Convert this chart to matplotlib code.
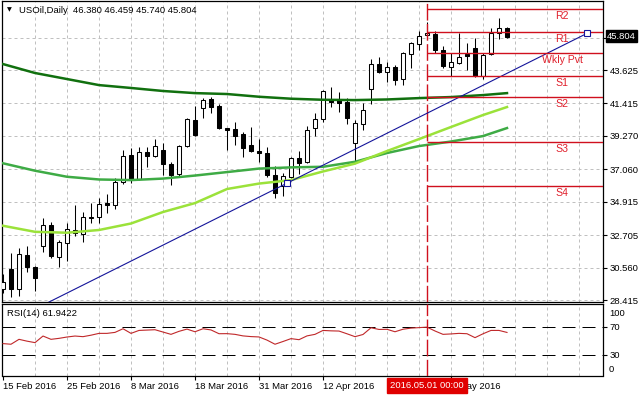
import numpy as np
import matplotlib.pyplot as plt

plt.rcParams['font.family'] = ['Liberation Sans', 'DejaVu Sans']

# USOil daily bars, 15 Feb 2016 .. 13 May 2016 (bar index 0..63)
opens = [29.13, 30.47, 29.13, 31.39, 30.58, 31.99, 33.38, 31.28, 32.17, 33.03,
         32.78, 33.86, 33.89, 34.85, 34.68, 36.22, 38.00, 36.42, 38.18, 37.96,
         38.32, 37.39, 36.73, 38.62, 40.32, 41.09, 41.71, 41.26, 39.77, 39.72,
         39.37, 38.67, 38.29, 38.12, 36.68, 35.96, 36.57, 37.83, 37.56, 39.77,
         40.36, 41.64, 41.64, 41.53, 38.78, 40.05, 42.35, 44.02, 43.51, 43.84,
         43.03, 44.66, 45.32, 45.94, 45.98, 44.94, 43.84, 44.07, 44.66, 45.06,
         43.25, 44.66, 46.05, 46.380]
highs = [30.14, 31.53, 31.86, 31.99, 30.67, 33.86, 33.60, 32.39, 33.53, 34.70,
         34.26, 34.85, 35.14, 35.43, 36.46, 38.34, 38.47, 38.55, 38.55, 39.06,
         38.78, 37.52, 38.67, 40.43, 41.26, 41.79, 41.86, 41.36, 39.81, 40.17,
         39.50, 39.88, 39.04, 38.55, 37.28, 36.79, 37.89, 38.29, 39.92, 40.76,
         42.30, 42.48, 42.19, 41.75, 40.32, 41.42, 44.33, 44.50, 44.13, 43.95,
         44.83, 45.45, 46.20, 46.82, 46.20, 45.23, 44.73, 46.05, 45.39, 45.76,
         44.73, 46.38, 47.08, 46.459]
lows = [28.88, 28.64, 28.68, 30.29, 29.01, 31.61, 31.18, 30.58, 31.02, 32.65,
        32.27, 33.53, 33.53, 34.19, 34.42, 36.09, 36.15, 36.35, 37.23, 37.89,
        36.68, 36.02, 36.64, 38.55, 39.28, 40.43, 40.76, 39.72, 38.33, 38.67,
        37.89, 38.22, 37.56, 36.57, 35.16, 35.29, 36.46, 36.75, 37.46, 39.26,
        40.21, 41.20, 40.87, 40.05, 37.63, 39.66, 41.38, 43.44, 42.85, 42.63,
        42.63, 43.78, 44.94, 45.89, 44.73, 43.74, 43.25, 44.00, 43.62, 43.18,
        43.03, 44.61, 45.67, 45.740]
closes = [29.63, 29.13, 31.46, 30.62, 29.85, 33.36, 31.33, 32.25, 33.09, 32.87,
          33.89, 33.89, 34.75, 34.68, 36.22, 37.94, 36.42, 38.18, 37.96, 38.62,
          37.39, 36.68, 38.62, 40.36, 39.33, 41.64, 41.20, 39.77, 39.64, 39.28,
          38.49, 38.29, 38.12, 36.68, 35.47, 36.62, 37.79, 37.50, 39.66, 40.36,
          42.25, 41.53, 41.46, 40.43, 40.10, 40.98, 44.02, 43.51, 43.84, 42.96,
          44.73, 45.39, 45.89, 46.05, 44.94, 43.91, 44.13, 44.50, 44.57, 43.25,
          44.61, 46.05, 46.42, 45.804]

# moving averages, read every 4 bars
ma_idx = [0, 4, 8, 12, 16, 20, 24, 28, 32, 36, 40, 44, 48, 52, 56, 60, 63]
ma_slow = [44.02, 43.43, 43.03, 42.63, 42.44, 42.24, 42.10, 42.04, 41.86,
           41.73, 41.66, 41.64, 41.68, 41.77, 41.84, 41.97, 42.10]
ma_mid = [37.46, 36.97, 36.57, 36.39, 36.35, 36.45, 36.65, 36.88, 37.11,
          37.19, 37.23, 37.56, 38.14, 38.60, 38.90, 39.26, 39.79]
ma_fast = [33.33, 32.93, 32.87, 33.05, 33.48, 34.24, 34.83, 35.76, 36.12,
           36.35, 36.92, 37.44, 38.27, 39.06, 39.86, 40.65, 41.18]

rsi = [46.0, 45.1, 52.1, 49.5, 47.4, 56.8, 52.1, 53.5, 55.4, 56.8,
       55.9, 58.0, 60.6, 60.6, 62.0, 67.2, 60.6, 64.8, 65.3, 65.8,
       62.5, 59.2, 63.5, 66.7, 62.9, 67.2, 65.5, 60.1, 60.2, 59.2,
       57.0, 56.0, 55.5, 51.0, 45.1, 49.0, 53.1, 51.6, 57.0, 59.2,
       64.8, 64.2, 63.9, 60.0, 55.9, 59.0, 68.6, 66.2, 66.4, 62.9,
       66.5, 68.1, 68.8, 69.5, 64.0, 59.2, 59.8, 60.6, 60.1, 54.5,
       60.0, 64.8, 64.8, 61.94]
rsi_label = 'RSI(14) 61.9422'

pivot_names = ['R2', 'R1', 'Wkly Pvt', 'S1', 'S2', 'S3', 'S4']
pivot_vals = [47.64, 46.12, 44.77, 43.23, 41.82, 38.85, 35.96]

trend_idx = [-2, 73]
trend_price = [26.24, 46.05]

price_ticks = [28.415, 30.560, 32.705, 34.915, 37.060, 39.270, 41.415, 43.625, 45.770]
price_labels = ['28.415', '30.560', '32.705', '34.915', '37.060', '39.270',
                '41.415', '43.625', '']
# the 22 Apr label sits fully under the red time box in the original
date_idx = [0, 8, 16, 24, 32, 40, 56]
date_labels = ['15 Feb 2016', '25 Feb 2016', '8 Mar 2016', '18 Mar 2016',
               '31 Mar 2016', '12 Apr 2016', '4 May 2016']
vline_idx = 53
vline_label = '2016.05.01 00:00'
title = 'USOil,Daily  46.380 46.459 45.740 45.804'
last_price = 45.804

FS = 6.8
GRID = '#c0c0c0'
RED = '#d0101e'

fig = plt.figure(figsize=(6.43, 3.97), dpi=100)
ax = fig.add_axes([2/643, 1-302/397, 601/643, 301/397])
axr = fig.add_axes([2/643, 1-375.5/397, 601/643, 71.5/397])

for a in (ax, axr):
    a.set_xlim(-0.125, 75)
    for s in a.spines.values():
        s.set_linewidth(0.9)
        s.set_color('black')
    for k in range(4, 75, 4):
        a.axvline(k, color=GRID, lw=0.72, ls=(0, (3, 3)), zorder=0)
    a.axvline(vline_idx, color=RED, lw=1.0, ls=(0, (12, 2.5)), zorder=6)

# main price panel
ax.set_ylim(28.29, 48.19)
for p in price_ticks:
    ax.axhline(p, color=GRID, lw=0.72, ls=(0, (3, 3)), zorder=0)

idx = np.arange(len(closes))
o = np.array(opens)
c = np.array(closes)
up = c >= o
ax.vlines(idx, lows, highs, color='black', lw=0.75, zorder=3)
ax.bar(idx, np.abs(c - o), bottom=np.minimum(o, c), width=0.62,
       color=np.where(up, 'white', 'black'), edgecolor='black',
       linewidth=0.75, zorder=4)

ax.plot(ma_idx, ma_slow, color='#11700f', lw=1.8, zorder=5)
ax.plot(ma_idx, ma_mid, color='#3eab45', lw=1.8, zorder=5)
ax.plot(ma_idx, ma_fast, color='#9be23a', lw=1.8, zorder=5)

ax.plot(trend_idx, trend_price, color='#14149a', lw=0.8, zorder=6)
mid_i = (trend_idx[0] + trend_idx[1]) / 2
mid_p = (trend_price[0] + trend_price[1]) / 2
ax.plot([mid_i, trend_idx[1]], [mid_p, trend_price[1]], ls='none', marker='s',
        ms=4, mfc='white', mec='#14149a', mew=0.8, zorder=7)

ax.hlines(pivot_vals, vline_idx, 75, color=RED, lw=1.0, zorder=6)
for name, val in zip(pivot_names, pivot_vals):
    ax.annotate(name, xy=(69.9, val), xytext=(0, -7), textcoords='offset pixels',
                ha='center', va='center', color='#e0202c', fontsize=7.6, zorder=8)

ax.yaxis.tick_right()
ax.set_yticks(price_ticks)
ax.set_yticklabels(price_labels)
ax.tick_params(axis='y', length=3, width=0.8, pad=2, labelsize=FS)
ax.tick_params(axis='x', bottom=False, labelbottom=False)

ax.annotate(f'{last_price:.3f}', xy=(1, last_price), xycoords=ax.get_yaxis_transform(),
            xytext=(4, 1), textcoords='offset pixels', ha='left', va='center',
            color='white', fontsize=FS, annotation_clip=False, zorder=10,
            bbox=dict(boxstyle='square,pad=0.15', fc='black', ec='black'))

ax.text(0.0116, 0.970, '\u25bc', transform=ax.transAxes, fontsize=4.5,
        family='DejaVu Sans', ha='center', va='center')
ax.text(0.0283, 0.970, title, transform=ax.transAxes, fontsize=FS,
        ha='left', va='center')

# RSI panel
axr.set_ylim(0.5, 102.5)
for lvl in (70, 30):
    axr.axhline(lvl, color='black', lw=0.72, ls=(0, (13, 7)), zorder=1)
axr.plot(idx, rsi, color='#c0282a', lw=0.8, zorder=4)
axr.yaxis.tick_right()
axr.set_yticks([70, 30])
axr.tick_params(axis='y', length=3, width=0.8, pad=2, labelsize=FS)
for lab, yf in (('100', 0.873), ('0', 0.085)):
    axr.annotate(lab, xy=(1, yf), xycoords='axes fraction', xytext=(6, 0),
                 textcoords='offset pixels', ha='left', va='center',
                 fontsize=FS, annotation_clip=False)
axr.text(5/601, 0.873, rsi_label, transform=axr.transAxes, fontsize=FS,
         ha='left', va='center')

axr.set_xticks(date_idx)
axr.set_xticklabels(date_labels, ha='left')
axr.tick_params(axis='x', length=3, width=0.8, pad=1.5, labelsize=FS)

axr.annotate(vline_label, xy=(vline_idx, 0), xycoords=axr.get_xaxis_transform(),
             xytext=(0, -10), textcoords='offset pixels', ha='center', va='center',
             color='white', fontsize=FS, annotation_clip=False, zorder=10,
             bbox=dict(boxstyle='square,pad=0.3', fc='#e00000', ec='#e00000'))

fig.savefig('out.png', dpi=100)
